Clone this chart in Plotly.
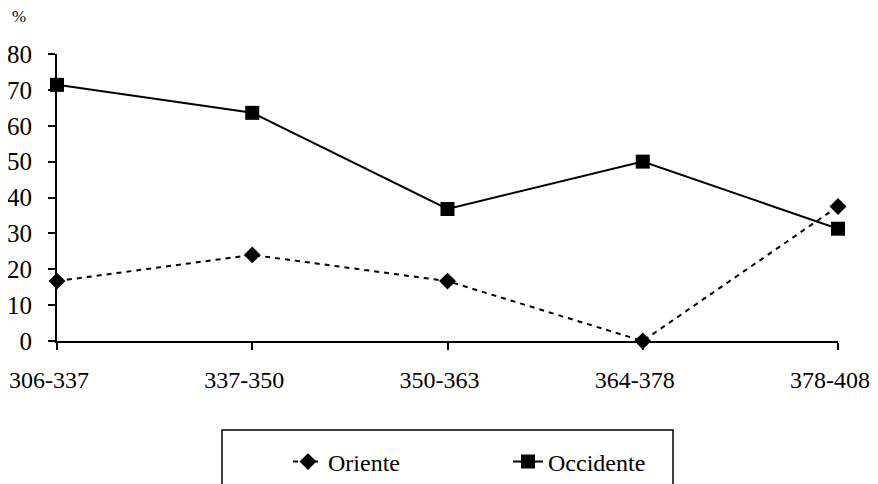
import plotly.graph_objects as go

categories = ["306-337", "337-350", "350-363", "364-378", "378-408"]
oriente = [16.7, 24.0, 16.7, 0.0, 37.5]
occidente = [71.4, 63.6, 36.8, 50.0, 31.3]
y_ticks = [0, 10, 20, 30, 40, 50, 60, 70, 80]

xs = list(range(len(categories)))
FONT = "Times New Roman, Liberation Serif, DejaVu Serif, serif"

fig = go.Figure()
fig.add_trace(go.Scatter(
    x=xs, y=oriente, name="Oriente", mode="lines+markers",
    line=dict(color="black", width=2, dash="5px,5px"),
    marker=dict(symbol="diamond", size=13, color="black"),
    cliponaxis=False,
))
fig.add_trace(go.Scatter(
    x=xs, y=occidente, name="Occidente", mode="lines+markers",
    line=dict(color="black", width=2),
    marker=dict(symbol="square", size=14, color="black"),
    cliponaxis=False,
))

OFF = 8  # page body margin
W, H = 878 - OFF, 530
# plot area in page pixels: x 57..838, y 54..341
L, R, T, B = 57 - OFF, W - (838 - OFF), 54 - OFF, H - (341 - OFF)
pw, ph = W - L - R, H - T - B

def px_x(p):
    return (p - OFF - L) / pw

def px_y(p):
    return (H - B - (p - OFF)) / ph

fig.update_layout(
    width=W, height=H,
    margin=dict(l=L, r=R, t=T, b=B),
    paper_bgcolor="white", plot_bgcolor="white",
    font=dict(family=FONT, size=25, color="black"),
    showlegend=True,
    legend=dict(
        orientation="h", x=px_x(288), xanchor="left", y=px_y(462), yanchor="middle",
        borderwidth=0, bgcolor="rgba(0,0,0,0)", font=dict(family=FONT, size=24),
        entrywidth=175, entrywidthmode="pixels",
    ),
    xaxis=dict(
        range=[0, 4], tickvals=xs, ticktext=categories, automargin=False,
        showgrid=False, zeroline=False, showline=True, linecolor="black", linewidth=2,
        ticks="outside", ticklen=7, tickwidth=2, tickcolor="black",
        tickfont=dict(family=FONT, size=24), ticklabelstandoff=9, ticklabelshift=-8,
    ),
    yaxis=dict(
        range=[0, 80], tickvals=y_ticks, automargin=False,
        showgrid=False, zeroline=False, showline=True, linecolor="black", linewidth=2,
        ticks="outside", ticklen=7, tickwidth=2, tickcolor="black",
        tickfont=dict(family=FONT, size=25), ticklabelstandoff=11,
    ),
    shapes=[dict(type="rect", xref="paper", yref="paper",
                 x0=px_x(222), x1=px_x(673), y0=px_y(430), y1=px_y(495),
                 line=dict(color="black", width=1.5), fillcolor="rgba(0,0,0,0)")],
    annotations=[dict(text="%", xref="paper", yref="paper", x=px_x(19), y=px_y(17),
                      xanchor="center", yanchor="middle", showarrow=False,
                      font=dict(family=FONT, size=17))],
)

fig.write_html("out.html")
